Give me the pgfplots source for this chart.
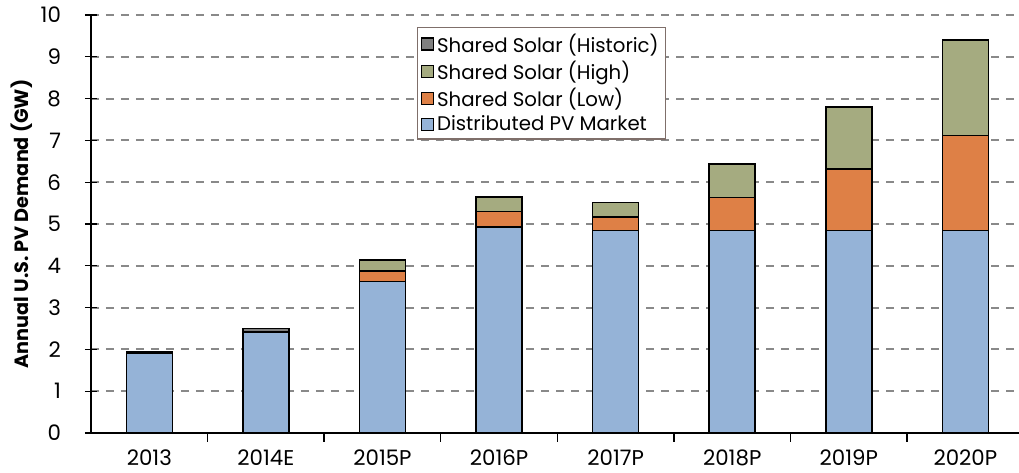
\documentclass[border=0pt]{standalone}
\usepackage{pgfplots}
\pgfplotsset{compat=1.18}
\usepackage{fontspec}
\setmainfont{Poppins}
\definecolor{cBlue}{HTML}{95B3D7}
\definecolor{cOrange}{HTML}{DE8046}
\definecolor{cGreen}{HTML}{A5AB80}
\definecolor{cGrey}{HTML}{7F7F7F}
\definecolor{cGrid}{HTML}{898989}
\definecolor{cLeg}{HTML}{7F6F6A}
\begin{document}
\begin{tikzpicture}
\begin{axis}[
  name=ax,
  scale only axis,
  width=696pt, height=313.5pt,
  ybar stacked, bar width=34.5pt,
  xmin=-0.5, xmax=7.46,
  ymin=0, ymax=10,
  ytick={0,1,...,10},
  xtick={0,...,7},
  xticklabels={2013,2014E,2015P,2016P,2017P,2018P,2019P,2020P},
  minor xtick={0.5,1.5,...,6.5},
  major x tick style={draw=none},
  minor x tick style={black, line width=1pt},
  minor tick length=6.5pt,
  tick align=outside,
  major tick length=9pt,
  y tick style={black, line width=1pt, xshift=4.5pt},
  ytick pos=left,
  xtick pos=bottom,
  axis x line*=bottom,
  axis y line*=left,
  axis line style={black, line width=1pt, -},
  ymajorgrids,
  grid style={cGrid, line width=1.5pt, dash pattern=on 6.25pt off 5pt},
  tick label style={font=\fontsize{16}{19}\selectfont},
  yticklabel style={xshift=-10pt},
  xticklabel style={yshift=0pt},
  /pgf/number format/assume math mode=true,
  ylabel={\bfseries Annual U.S. PV Demand (GW)},
  every axis y label/.style={at={(axis description cs:-0.0744,0.5)}, rotate=90, anchor=center,
    font=\fontsize{14.4}{17}\selectfont},
  legend style={at={(0.351,0.971)}, anchor=north west, draw=cLeg, line width=1pt,
    font=\fontsize{14.8}{17}\selectfont, inner xsep=3pt, inner ysep=2.5pt, row sep=1.2pt,
    cells={anchor=west}},
  legend cell align=left,
  reverse legend,
  legend image code/.code={\draw[#1, line width=0.8pt, draw=black] (0pt,-4.5pt) rectangle (9pt,4.5pt);},
  every axis plot/.append style={draw=black, line width=1.1pt},
  clip=false,
]
\addplot[fill=cBlue] coordinates {(0,1.91) (1,2.42) (2,3.62) (3,4.93) (4,4.84) (5,4.84) (6,4.84) (7,4.84)};
\addlegendentry{Distributed PV Market}
\addplot[fill=cOrange] coordinates {(0,0) (1,0) (2,0.26) (3,0.37) (4,0.33) (5,0.79) (6,1.48) (7,2.28)};
\addlegendentry{Shared Solar (Low)}
\addplot[fill=cGreen] coordinates {(0,0) (1,0) (2,0.26) (3,0.35) (4,0.35) (5,0.81) (6,1.48) (7,2.28)};
\addlegendentry{Shared Solar (High)}
\addplot[fill=cGrey] coordinates {(0,0.03) (1,0.08) (2,0) (3,0) (4,0) (5,0) (6,0) (7,0)};
\addlegendentry{Shared Solar (Historic)}
\end{axis}
\pgfresetboundingbox
\path ([xshift=-68.25pt,yshift=-29.25pt]ax.south west) rectangle ([yshift=11.25pt]ax.north east);
\end{tikzpicture}
\end{document}
